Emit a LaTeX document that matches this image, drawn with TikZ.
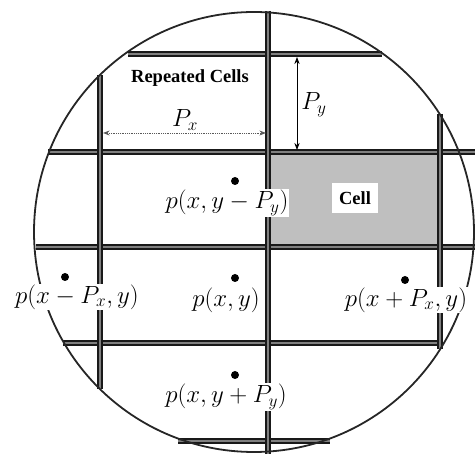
\documentclass[tikz,border=0pt]{standalone}
\usepackage{amsmath}
\usepackage{fontspec}
\setmainfont{Liberation Serif}
\usetikzlibrary{arrows.meta}

\begin{document}
\begin{tikzpicture}[x=1pt,y=-1pt,>=Stealth,
  gridline/.style={draw=black!90,line width=1.6pt,double=black!50,double distance=2.6pt},
  lbl/.style={fill=white,inner sep=1pt,font=\fontsize{24}{28}\selectfont},
  txt/.style={font=\fontsize{18.5}{22}\selectfont\bfseries},
  dot/.style={circle,fill=black,inner sep=0pt,minimum size=8pt}]
\useasboundingbox(0,0)rectangle(475,454);
\fill[gray!50](268,152)rectangle(440,247);
% grid of repeated cells
\draw[gridline](128,54)--(382,54);
\draw[gridline](48,152)--(475,152);
\draw[gridline](36,247)--(475,247);
\draw[gridline](63,343)--(442,343);
\draw[gridline](178,441)--(330,441);
\draw[gridline](100,75)--(100,389);
\draw[gridline](268,11)--(268,454);
\draw[gridline](440,114)--(440,349);
\draw[black!85,line width=1.8pt](254,232)circle[radius=220];
% pitch arrows
\coordinate(px1)at(103,133);
\coordinate(px2)at(266,133);
\coordinate(py1)at(297,57);
\coordinate(py2)at(297,150);
\draw[<->,gray!70!black,densely dotted,line width=0.8pt](px1)--(px2);
\draw[<->,black,line width=0.9pt](py1)--(py2);
\node[lbl,fill=none](Px)at(185,120){$P_x$};
\node[lbl,fill=none](Py)at(314,105){$P_y$};
\node[txt](rep)at(190,78){Repeated Cells};
\node[txt,fill=white,minimum width=46pt,minimum height=30pt,inner sep=0pt](cell)at(355,198){Cell};
% sample points
\node[lbl](up)at(227,203){$p(x,y-P_y)$};
\node[lbl](left)at(77,297){$p(x-P_x,y)$};
\node[lbl](mid)at(226,300){$p(x,y)$};
\node[lbl](right)at(406,300){$p(x+P_x,y)$};
\node[lbl](down)at(226,397){$p(x,y+P_y)$};
\node[dot](dup)at(235,181){};
\node[dot](dleft)at(65,277){};
\node[dot](dmid)at(235,278){};
\node[dot](dright)at(405,280){};
\node[dot](ddown)at(235,375){};
\end{tikzpicture}
\end{document}
